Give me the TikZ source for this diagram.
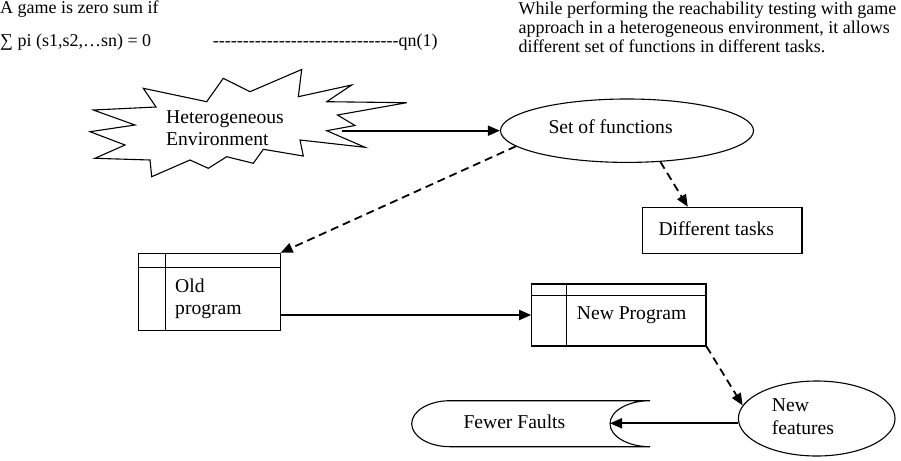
\documentclass[tikz,border=0pt]{standalone}
\usepackage{fontspec}
\setmainfont{Liberation Serif}
\usetikzlibrary{arrows.meta,shapes.geometric,calc}
\newcount\dshcount
\newcommand\dashrow[1]{\dshcount=0\relax\loop\ifnum\dshcount<#1\relax\mbox{-}\advance\dshcount by 1\relax\repeat}
\newcommand\twolines[1]{\begin{tabular}[t]{@{}l@{}}#1\end{tabular}}
\begin{document}
\begin{tikzpicture}[x=1pt,y=-1pt,
  shapeline/.style={draw=black,line width=1.1pt},
  boxnode/.style={shapeline,rectangle,inner sep=0pt},
  ovalnode/.style={shapeline,ellipse,inner sep=0pt},
  lbl/.style={inner sep=0pt,anchor=base west,font=\fontsize{19.6}{22.5}\selectfont},
  toptext/.style={inner sep=0pt,anchor=base west,font=\fontsize{18}{19}\selectfont},
  conn/.style={line width=1.8pt,-{Triangle[length=12pt,width=10pt]}},
  dconn/.style={conn,dash pattern=on 8pt off 5pt}]
\useasboundingbox (0,0) rectangle (901,460);

% top texts
\node[toptext] (t1) at (0,13.5) {A game is zero sum if};
\node[toptext] (t2) at (0,46.7) {∑ pi (s1,s2,…sn) = 0};
\node[toptext] (t3) at (212.7,46.7) {\dashrow{31}qn(1)};
\node[toptext] (t4) at (518.3,14.5) {\twolines{While performing the reachability testing with game\\approach in a heterogeneous environment, it allows\\different set of functions in different tasks.}};

% star
\draw[shapeline,line join=miter] (143.3,88.3) -- (206.7,101.7) -- (223.3,78.3) -- (250,91.7)
  -- (301.7,69.5) -- (298.3,96.7) -- (351.7,85) -- (326.7,101.7) -- (406.7,102.7)
  -- (337.5,115) -- (355,125.5) -- (326.7,130.7) -- (365,147.3) -- (300,140)
  -- (303.3,156) -- (263.3,149.3) -- (253.3,163.3) -- (226.7,156.7) -- (208.3,168.3)
  -- (190,160) -- (151.7,176.7) -- (150,160) -- (95,158.3) -- (125,145)
  -- (90,131.7) -- (135,125) -- (93.3,110) -- (156,107) -- cycle;
\node[lbl] (envlbl) at (166,123.3) {\twolines{Heterogeneous\\Environment}};
\coordinate (envout) at (341.7,130.7);

% set of functions
\node[ovalnode,minimum width=253pt,minimum height=63.4pt] (set) at (627,130.7) {};
\node[lbl] (setlbl) at (548.3,133.3) {Set of functions};

% different tasks
\node[boxnode,minimum width=159.3pt,minimum height=46pt] (diff) at (722.35,230.3) {};
\node[lbl] (difflbl) at (658.3,235) {Different tasks};

% old program
\node[boxnode,minimum width=141.7pt,minimum height=76.7pt] (old) at (209.2,291.7) {};
\draw[shapeline] ($(old.north west)+(0,15)$) -- ($(old.north east)+(0,15)$);
\draw[shapeline] ($(old.north west)+(27.7,0)$) -- ($(old.south west)+(27.7,0)$);
\node[lbl] (oldlbl) at (175,292) {\twolines{Old\\program}};

% new program
\node[boxnode,minimum width=174.3pt,minimum height=62pt] (new) at (618.85,315) {};
\draw[shapeline] ($(new.north west)+(0,12)$) -- ($(new.north east)+(0,12)$);
\draw[shapeline] ($(new.north west)+(35,0)$) -- ($(new.south west)+(35,0)$);
\node[lbl] (newlbl) at (576.7,319.3) {New Program};

% new features
\node[ovalnode,minimum width=156.6pt,minimum height=75pt] (newf) at (816.7,418.5) {};
\node[lbl] (newflbl) at (771.7,411.7) {\twolines{New\\features}};

% fewer faults
\draw[shapeline] (650,400.7) -- (450,400.7)
  .. controls (428.8,400.7) and (411.7,411) .. (411.7,423.7)
  .. controls (411.7,436.4) and (428.8,446.7) .. (450,446.7)
  -- (650,446.7)
  .. controls (627.9,446.7) and (610,436.4) .. (610,423.7)
  .. controls (610,411) and (627.9,400.7) .. (650,400.7) -- cycle;
\coordinate (fewerin) at (610,423.3);
\node[lbl] (fewerlbl) at (463.3,428.3) {Fewer Faults};

% connectors
\draw[conn] (envout) -- (set.west);
\draw[dconn] (set.-43.7) -- ([xshift=45.6pt]diff.north west);
\draw[dconn] (set.188) -- (old.north east);
\draw[conn] (old.east |- new.west) -- (new.west);
\draw[dconn] (new.south east) -- (newf.170);
\draw[conn] (newf.west |- fewerin) -- (fewerin);
\end{tikzpicture}
\end{document}
